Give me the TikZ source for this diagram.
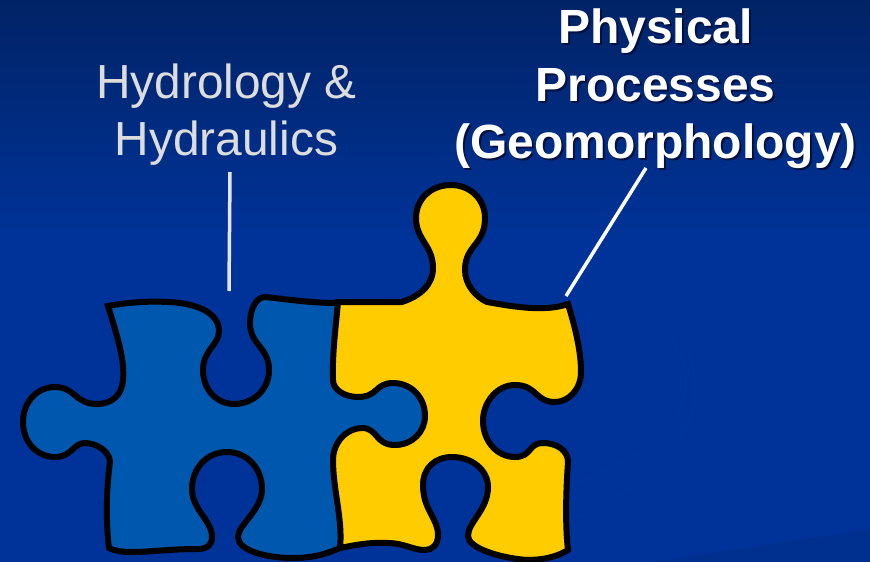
\documentclass[tikz,border=0pt]{standalone}
\usepackage{fontspec}
\setmainfont{Liberation Sans}
\definecolor{bgtop}{HTML}{012366}
\definecolor{bgmid}{HTML}{003399}
\definecolor{bgdark}{HTML}{00308F}
\definecolor{swoosh}{HTML}{00379C}
\definecolor{bluepiece}{HTML}{0058AE}
\definecolor{yellowpiece}{HTML}{FFCC00}
\definecolor{softtext}{HTML}{DDDDDD}
\definecolor{softline}{HTML}{E4E4E4}
\definecolor{shadowtext}{HTML}{001040}
\tikzset{
  piece/.style={draw=black,line width=6pt,line join=miter,miter limit=6},
  softlabel/.style={text=softtext,font=\fontsize{47.8}{57}\selectfont,align=center,inner sep=0pt},
  boldlabel/.style={text=white,font=\fontsize{48}{57.5}\selectfont\bfseries,align=center,inner sep=0pt},
  shadowlabel/.style={boldlabel,text=shadowtext},
  leader/.style={line width=3.5pt}
}
\begin{document}
\begin{tikzpicture}[x=1pt,y=-1pt]
\useasboundingbox (0,0) rectangle (870,562);
% background
\fill[bgmid] (0,0) rectangle (870,562);
\shade[top color=bgtop,bottom color=bgmid] (0,0) rectangle (870,240);
\fill[bgdark] (870,529) -- (650,562) -- (870,562) -- cycle;
\draw[swoosh,line width=.8pt] (672,340) .. controls (700,385) and (695,440) .. (570,485);
\draw[swoosh,line width=.8pt] (682,340) .. controls (712,395) and (695,465) .. (570,521);
% blue piece
\draw[piece,fill=bluepiece]
  (108,306)
  .. controls (130,302) and (150,301) .. (168,302)
  .. controls (195,303) and (219,312) .. (219,331)
  .. controls (219,345) and (203,350) .. (203,370)
  .. controls (203,390) and (217,404) .. (234,404)
  .. controls (253,404) and (269,390) .. (269,370)
  .. controls (269,347) and (250,345) .. (250,323)
  .. controls (250,308) and (257,297) .. (265,297)
  .. controls (285,299) and (310,303) .. (337,303)
  -- (400,320) -- (440,380) -- (440,450) -- (400,480) -- (342,547)
  .. controls (325,555) and (310,558) .. (293,558)
  .. controls (265,558) and (238,550) .. (238,537)
  .. controls (238,525) and (262,510) .. (262,489)
  .. controls (262,468) and (247,452) .. (227,452)
  .. controls (207,452) and (192,468) .. (192,489)
  .. controls (192,510) and (212,520) .. (212,537)
  .. controls (212,545) and (207,549) .. (198,549)
  .. controls (170,549) and (150,552) .. (133,552)
  .. controls (122,552) and (115,551) .. (109,548)
  .. controls (106,525) and (106,490) .. (110,462)
  .. controls (110,452) and (97,443) .. (85,443)
  .. controls (73,443) and (72,457) .. (55,457)
  .. controls (37,457) and (23,442) .. (23,422)
  .. controls (23,402) and (37,387) .. (55,387)
  .. controls (75,387) and (75,404) .. (97,404)
  .. controls (112,404) and (122,395) .. (123,380)
  .. controls (125,360) and (117,335) .. (108,306)
  -- cycle;
% yellow piece
\draw[piece,fill=yellowpiece]
  (338,302) -- (402,302)
  .. controls (420,296) and (433,285) .. (433,268)
  .. controls (433,245) and (416,240) .. (416,218)
  .. controls (416,199) and (431,185) .. (451,185)
  .. controls (470,185) and (485,199) .. (485,218)
  .. controls (485,245) and (465,245) .. (465,270)
  .. controls (465,285) and (476,297) .. (487,302)
  .. controls (515,307) and (545,312) .. (568,304)
  .. controls (576,330) and (581,352) .. (581,372)
  .. controls (581,390) and (568,402) .. (555,402)
  .. controls (535,402) and (537,385) .. (515,385)
  .. controls (497,385) and (483,402) .. (483,421)
  .. controls (483,441) and (497,457) .. (515,457)
  .. controls (532,457) and (528,443) .. (543,443)
  .. controls (556,443) and (568,450) .. (568,462)
  .. controls (566,490) and (565,525) .. (568,550)
  .. controls (555,558) and (540,560) .. (527,560)
  .. controls (500,558) and (468,548) .. (468,536)
  .. controls (468,522) and (488,510) .. (488,487)
  .. controls (488,470) and (472,457) .. (452,457)
  .. controls (435,457) and (423,468) .. (423,485)
  .. controls (423,510) and (438,518) .. (438,535)
  .. controls (438,545) and (432,550) .. (425,550)
  .. controls (412,550) and (405,543) .. (387,543)
  .. controls (370,542) and (355,545) .. (340,548)
  .. controls (343,520) and (333,490) .. (333,460)
  .. controls (333,442) and (347,428) .. (362,428)
  .. controls (378,428) and (375,445) .. (395,445)
  .. controls (412,445) and (425,432) .. (425,416)
  .. controls (425,397) and (411,383) .. (393,383)
  .. controls (375,383) and (378,397) .. (358,397)
  .. controls (345,397) and (333,390) .. (333,380)
  .. controls (332,355) and (336,325) .. (338,302)
  -- cycle;
% labels
\node[softlabel] (hydro) at (226.5,115) {Hydrology \&\\Hydraulics};
\node[shadowlabel] (physshadow) at (657.5,91) {Physical\\Processes\\(Geomorphology)};
\node[boldlabel] (phys) at (655.5,89) {Physical\\Processes\\(Geomorphology)};
% leaders
\coordinate (hydrotop) at (230,172);
\coordinate (hydroend) at (229,291);
\coordinate (phystop) at (646,168);
\coordinate (physend) at (566,296);
\draw[leader,softline] (hydrotop) -- (hydroend);
\draw[leader,white] (phystop) -- (physend);
\end{tikzpicture}
\end{document}
